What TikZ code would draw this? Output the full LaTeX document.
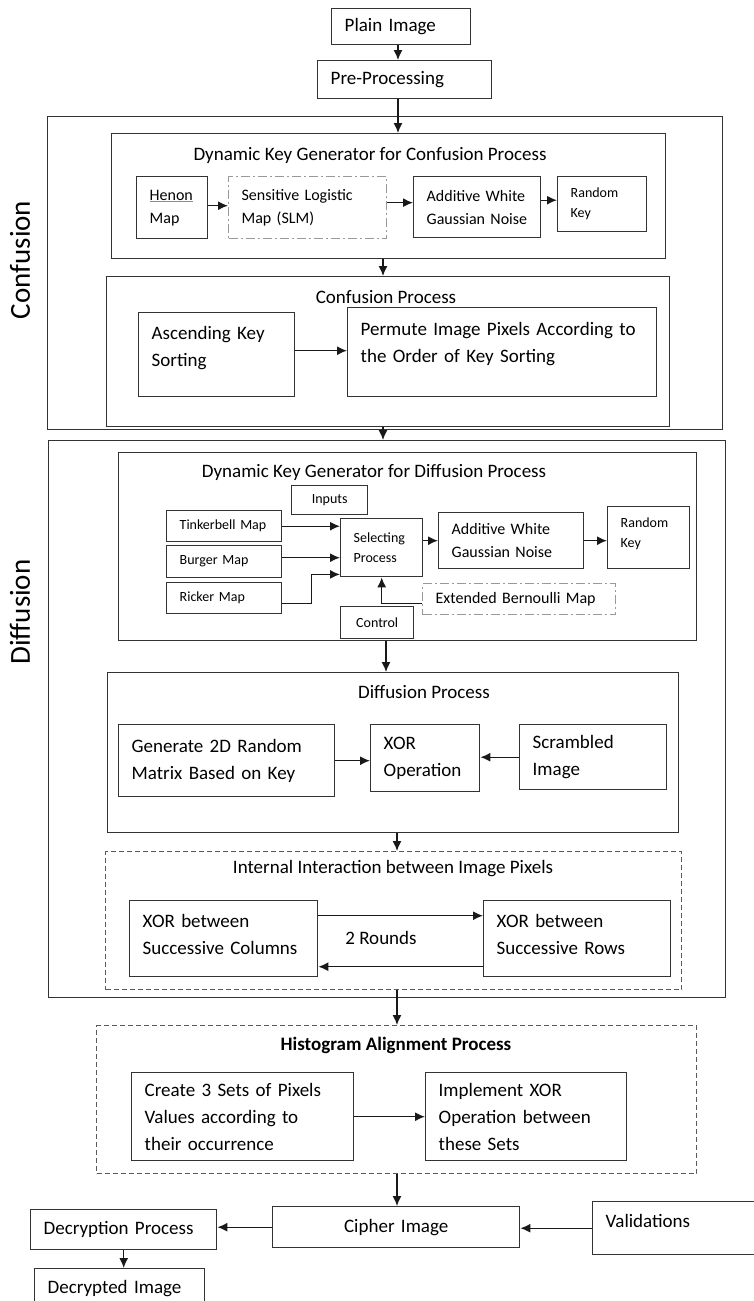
\documentclass[tikz,border=0pt]{standalone}
\usepackage{fontspec}
\setmainfont{Carlito}
\usetikzlibrary{arrows.meta, positioning}
\tikzset{
  >={Latex[length=10pt,width=9pt]},
  box/.style={draw=black!80, line width=1.4pt, anchor=north west, align=left,
    inner xsep=13pt, inner ysep=0pt, text=black},
  wh/.style 2 args={minimum width=#1pt, minimum height=#2pt, text width=#1pt-26pt},
  dashdot/.style={draw=black!40, line width=1.3pt, dash pattern=on 9pt off 3pt on 2pt off 3pt},
  dashbox/.style={draw=black!65, line width=1.2pt, dash pattern=on 5pt off 3pt},
  big/.style={font=\fontsize{19}{27}\selectfont},
  mid/.style={font=\fontsize{16}{23}\selectfont},
  small/.style={font=\fontsize{14}{20}\selectfont},
  side/.style={font=\fontsize{29}{35}\selectfont, rotate=90, text=black},
  link/.style={->, line width=1.3pt, draw=black!90}
}
\newcommand{\padb}[1]{\rule[-#1]{0pt}{#1}}

\begin{document}
\begin{tikzpicture}[x=1pt, y=-1pt]
    \useasboundingbox (0,0) rectangle (753,1301);

    \node[box, big, wh={139}{36}] (plain) at (331,8) {Plain~Image};
    \node[box, big, wh={174}{38}] (pre) at (317,60) {Pre-Processing};

    \node[box, wh={675}{313}] (confusion) at (47,116) {};
    \node[side] (conf-label) at (20,260) {Confusion};
    \node[box, wh={554}{125}] (keyconf) at (111,133) {};
    \node[big] (keyconf-title) at (370,155) {Dynamic Key Generator for Confusion Process};
    \node[box, mid, wh={71}{62}] (henon) at (136,176)
      {{\color{black!45}\underline{\color{black}Henon}}\\Map};
    \node[box, mid, dashdot, wh={158}{62}] (slm) at (228,176) {Sensitive Logistic\\Map (SLM)};
    \node[box, mid, wh={127}{61}] (awgnconf) at (413,176) {Additive White\\Gaussian~Noise};
    \node[box, small, wh={89}{55}] (randconf) at (557,176) {Random\\Key};
    \node[box, wh={563}{150}] (confproc) at (106,276) {};
    \node[big] (confproc-title) at (386,297) {Confusion Process};
    \node[box, big, wh={156}{84}] (ascend) at (138,312) {Ascending Key\\Sorting\padb{16pt}};
    \node[box, big, wh={309}{89}] (permute) at (347,307)
      {Permute Image Pixels According to\\the Order of Key Sorting\padb{20pt}};

    \node[box, wh={677}{557}] (diffusion) at (48,440) {};
    \node[side] (diff-label) at (20,612) {Diffusion};
    \node[box, wh={578}{188}] (keydiff) at (118,452) {};
    \node[big] (keydiff-title) at (374,472) {Dynamic Key Generator for Diffusion Process};
    \node[box, small, align=center, wh={76}{29}] (inputs) at (291,485) {Inputs};
    \node[box, small, wh={115}{31}] (tinker) at (166,510) {Tinkerbell~Map};
    \node[box, small, wh={115}{32}] (burger) at (166,545) {Burger~Map};
    \node[box, small, wh={115}{31}] (ricker) at (166,582) {Ricker~Map};
    \node[box, small, wh={82}{58}] (select) at (340,518) {Selecting\\Process};
    \node[box, mid, wh={145}{56}] (awgndiff) at (438,512) {Additive White\\Gaussian~Noise};
    \node[box, small, wh={82}{62}] (randdiff) at (607,506) {Random\\Key\padb{11pt}};
    \node[box, mid, dashdot, wh={193}{31}] (bernoulli) at (422,583) {Extended~Bernoulli~Map};
    \node[box, small, align=center, wh={73}{32}] (control) at (340,606) {Control};

    \node[box, wh={571}{160}] (diffproc) at (107,672) {};
    \node[big] (diffproc-title) at (424,692) {Diffusion Process};
    \node[box, big, wh={216}{72}] (gen2d) at (118,724) {Generate 2D Random\\Matrix Based on Key};
    \node[box, big, wh={109}{67}] (xorop) at (370,724) {XOR\\Operation};
    \node[box, big, wh={147}{65}] (scram) at (519,724) {Scrambled\\Image};

    \node[box, dashbox, wh={576}{138}] (interact) at (105,851) {};
    \node[big] (interact-title) at (393,869) {Internal Interaction between Image Pixels};
    \node[box, big, wh={188}{76}] (xorcol) at (129,900) {XOR between\\Successive Columns\padb{8pt}};
    \node[box, big, wh={187}{76}] (xorrow) at (483,900) {XOR between\\Successive Rows\padb{8pt}};
    \node[big] (rounds) at (381,938) {2 Rounds};

    \node[box, dashbox, wh={600}{148}] (hist) at (96,1025) {};
    \node[big, font=\fontsize{19}{27}\selectfont\bfseries] (hist-title) at (396,1045) {Histogram Alignment Process};
    \node[box, big, wh={222}{88}] (create) at (131,1072)
      {Create 3 Sets of Pixels\\Values according to\\their occurrence};
    \node[box, big, wh={201}{88}] (implement) at (425,1072)
      {Implement XOR\\Operation between\\these Sets};

    \node[box, big, align=center, wh={247}{41}] (cipher) at (272,1206) {Cipher~Image};
    \node[box, big, wh={186}{40}] (decryption) at (30,1209) {Decryption~Process};
    \node[box, big, wh={170}{53}] (validations) at (592,1201) {Validations\padb{15pt}};
    \node[box, big, wh={170}{40}] (decrypted) at (34,1268) {Decrypted~Image};

    \coordinate (spineA) at (398,0);
    \coordinate (spineB) at (383,0);
    \coordinate (spineC) at (386,0);
    \coordinate (spineD) at (397,0);

    \draw[link] (plain.south -| spineA) -- (pre.north -| spineA);
    \draw[link] (pre.south -| spineA) -- (keyconf.north -| spineA);
    \draw[link] ([yshift=2pt]henon.east) -- ([yshift=2pt]henon.east -| slm.west);
    \draw[link] ([yshift=5pt]slm.east) -- ([yshift=5pt]slm.east -| awgnconf.west);
    \draw[link] ([yshift=7pt]awgnconf.east) -- ([yshift=7pt]awgnconf.east -| randconf.west);
    \draw[link] (keyconf.south -| spineB) -- (confproc.north -| spineB);
    \draw[link] ([yshift=4pt]ascend.east) -- ([yshift=4pt]ascend.east -| permute.west);
    \draw[link] (confproc.south -| spineB) -- (diffusion.north -| spineB);
    \draw[link] (tinker.east) -- (tinker.east -| select.west);
    \draw[link] ([yshift=4pt]burger.east) -- ([yshift=4pt]burger.east -| select.west);
    \draw[link] ([yshift=-5pt]ricker.east) -- ++(29,0) |- ([yshift=3pt]select.south west);
    \draw[link] (select.east |- awgndiff.west) -- (awgndiff.west);
    \draw[link] (awgndiff.east) -- (awgndiff.east -| randdiff.west);
    \draw[link] ([yshift=-4pt]bernoulli.west) -| (select.south);
    \draw[link] (keydiff.south -| spineC) -- (diffproc.north -| spineC);
    \draw[link] (gen2d.east) -- (gen2d.east -| xorop.west);
    \draw[link] (scram.west) -- (scram.west -| xorop.east);
    \draw[link] (diffproc.south -| spineD) -- (interact.north -| spineD);
    \draw[link] ([yshift=23pt]xorcol.east) -- ([yshift=23pt]xorcol.east -| xorrow.west);
    \draw[link] ([yshift=-28pt]xorrow.west) -- ([yshift=-28pt]xorrow.west -| xorcol.east);
    \draw[link] (interact.south -| spineD) -- (hist.north -| spineD);
    \draw[link] (create.east) -- (create.east -| implement.west);
    \draw[link] (hist.south -| spineD) -- (cipher.north -| spineD);
    \draw[link] (cipher.west) -- (cipher.west -| decryption.east);
    \draw[link] (validations.west) -- (validations.west -| cipher.east);
    \draw[link] (decryption.south) -- (decryption.south |- decrypted.north);
\end{tikzpicture}
\end{document}
